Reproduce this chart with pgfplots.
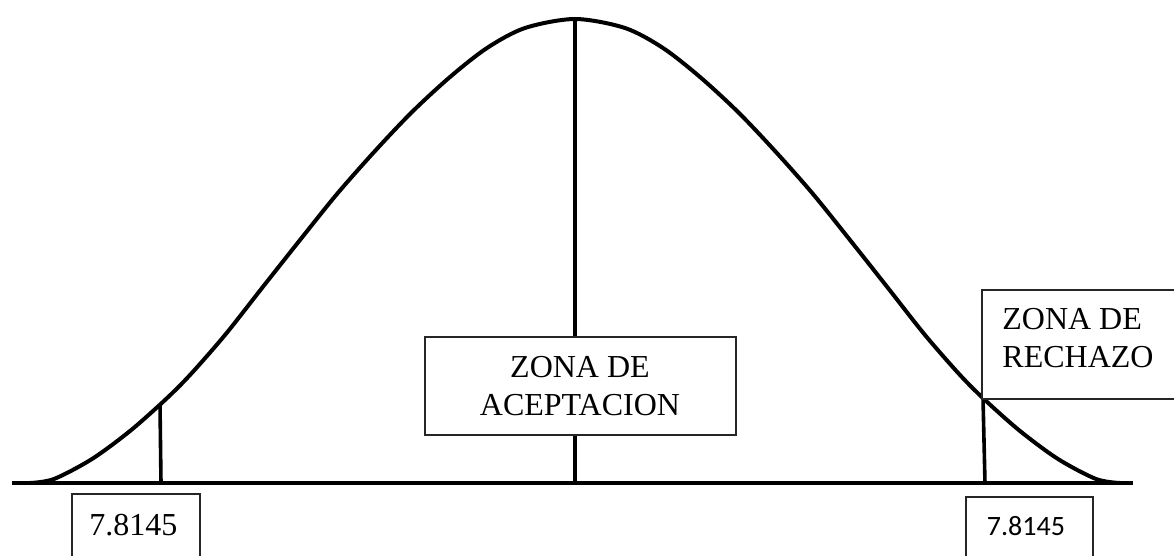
\documentclass[border=0pt]{standalone}
\usepackage{fontspec}
\setmainfont{Liberation Serif}
\newfontfamily\carlito{Carlito}
\usepackage{pgfplots}
\pgfplotsset{compat=1.18}
\begin{document}
\begin{tikzpicture}
\begin{axis}[
  width=587pt, height=278pt, scale only axis,
  xmin=0, xmax=1174, ymin=0, ymax=556, y dir=reverse,
  hide axis, clip=true,
]
% bell curve (pixel coordinates)
\addplot[black, line width=2pt, smooth, tension=0.5] coordinates {
 (30,483) (54,479) (92,459) (130,431) (165,400) (190,375) (225,335)
 (262,288) (300,240) (337,194) (375,151) (412,112) (450,77) (487,48)
 (525,28) (575,19) (625,28) (663,48) (700,77) (738,112) (775,151)
 (813,194) (850,240) (888,288) (925,335) (960,375) (985,400) (1020,431)
 (1058,459) (1096,479) (1120,483)};
% base line
\addplot[black, line width=2pt] coordinates {(12,483) (1133,483)};
% vertical lines
\addplot[black, line width=1.8pt] coordinates {(160,405) (161,483)};
\addplot[black, line width=2pt] coordinates {(575,19) (575,483)};
\addplot[black, line width=1.8pt] coordinates {(983,398) (985,483)};
% boxes
\draw[black!85, line width=0.7pt, fill=white] (axis cs:425,337) rectangle (axis cs:736,435);
\draw[black!85, line width=0.7pt, fill=white] (axis cs:982,290) rectangle (axis cs:1200,399);
\draw[black!85, line width=0.7pt, fill=white] (axis cs:72,494) rectangle (axis cs:200,580);
\draw[black!85, line width=0.7pt, fill=white] (axis cs:966,497) rectangle (axis cs:1093,580);
% texts
\node[anchor=base, inner sep=0pt, font=\fontsize{16}{19}\selectfont] at (axis cs:580,377) {ZONA DE};
\node[anchor=base, inner sep=0pt, font=\fontsize{16}{19}\selectfont] at (axis cs:580,415) {ACEPTACION};
\node[anchor=base west, inner sep=0pt, font=\fontsize{16}{19}\selectfont] at (axis cs:1002,329) {ZONA DE};
\node[anchor=base west, inner sep=0pt, font=\fontsize{16}{19}\selectfont] at (axis cs:1002,367) {RECHAZO};
\node[anchor=base, inner sep=0pt, font=\fontsize{16}{19}\selectfont] at (axis cs:133.5,535) {7.8145};
\node[anchor=base, inner sep=0pt, font=\carlito\fontsize{14}{17}\selectfont] at (axis cs:1026,535) {7.8145};
\end{axis}
\pgfresetboundingbox
\useasboundingbox (current axis.south west) rectangle (current axis.north east);
\end{tikzpicture}
\end{document}
